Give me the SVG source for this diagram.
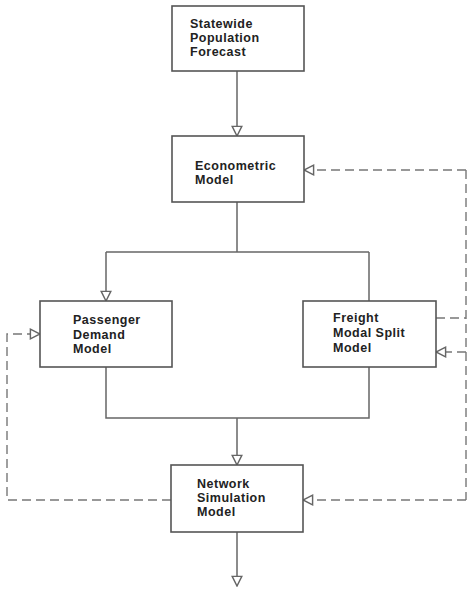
<svg xmlns="http://www.w3.org/2000/svg" width="468" height="592" viewBox="0 0 468 592">
<defs>
<style>
.box{fill:#fff;stroke:#555;stroke-width:1.6}
.t{font-family:"Liberation Sans",Arial,sans-serif;font-weight:bold;font-size:12.5px;letter-spacing:0.5px;fill:#222}
.ln{fill:none;stroke:#666;stroke-width:1.5}
.ds{fill:none;stroke:#777;stroke-width:1.4;stroke-dasharray:9,5}
</style>
<marker id="ah" markerUnits="userSpaceOnUse" markerWidth="12" markerHeight="12" refX="8" refY="4" orient="auto" viewBox="-1 -1 10 10">
<path d="M0,0 L8,4 L0,8 Z" fill="#fff" stroke="#666" stroke-width="1.2"/>
</marker>
</defs>
<rect width="468" height="592" fill="#fff"/>
<g id="connectors">
<path class="ln" d="M237,71 V136" marker-end="url(#ah)"/>
<path class="ln" d="M237,202 V252"/>
<path class="ln" d="M106,252 H369"/>
<path class="ln" d="M106,252 V301" marker-end="url(#ah)"/>
<path class="ln" d="M369,252 V301"/>
<path class="ln" d="M106,367 V418 H369 V367"/>
<path class="ln" d="M237,418 V465" marker-end="url(#ah)"/>
<path class="ln" d="M237,532 V586" marker-end="url(#ah)"/>
<path class="ds" d="M466,170 H304" marker-end="url(#ah)"/>
<path class="ds" d="M466,170 V500"/>
<path class="ds" d="M436,318 H466"/>
<path class="ds" d="M466,352 H436" marker-end="url(#ah)"/>
<path class="ds" d="M466,500 H303" marker-end="url(#ah)"/>
<path class="ds" d="M171,500 H7 V334 H40" marker-end="url(#ah)"/>
</g>
<g id="statewide">
<rect class="box" x="172" y="6" width="132" height="65"/>
<text class="t" x="190" y="28">Statewide</text>
<text class="t" x="190" y="42">Population</text>
<text class="t" x="190" y="56">Forecast</text>
</g>
<g id="econometric">
<rect class="box" x="172" y="136" width="132" height="66"/>
<text class="t" x="195" y="170">Econometric</text>
<text class="t" x="195" y="184">Model</text>
</g>
<g id="passenger">
<rect class="box" x="40" y="301" width="132" height="66"/>
<text class="t" x="73" y="324">Passenger</text>
<text class="t" x="73" y="338.5">Demand</text>
<text class="t" x="73" y="353">Model</text>
</g>
<g id="freight">
<rect class="box" x="303" y="301" width="133" height="66"/>
<text class="t" x="333" y="322">Freight</text>
<text class="t" x="333" y="337">Modal Split</text>
<text class="t" x="333" y="351.5">Model</text>
</g>
<g id="network">
<rect class="box" x="171" y="465" width="132" height="67"/>
<text class="t" x="197" y="488">Network</text>
<text class="t" x="197" y="502">Simulation</text>
<text class="t" x="197" y="516">Model</text>
</g>
</svg>
